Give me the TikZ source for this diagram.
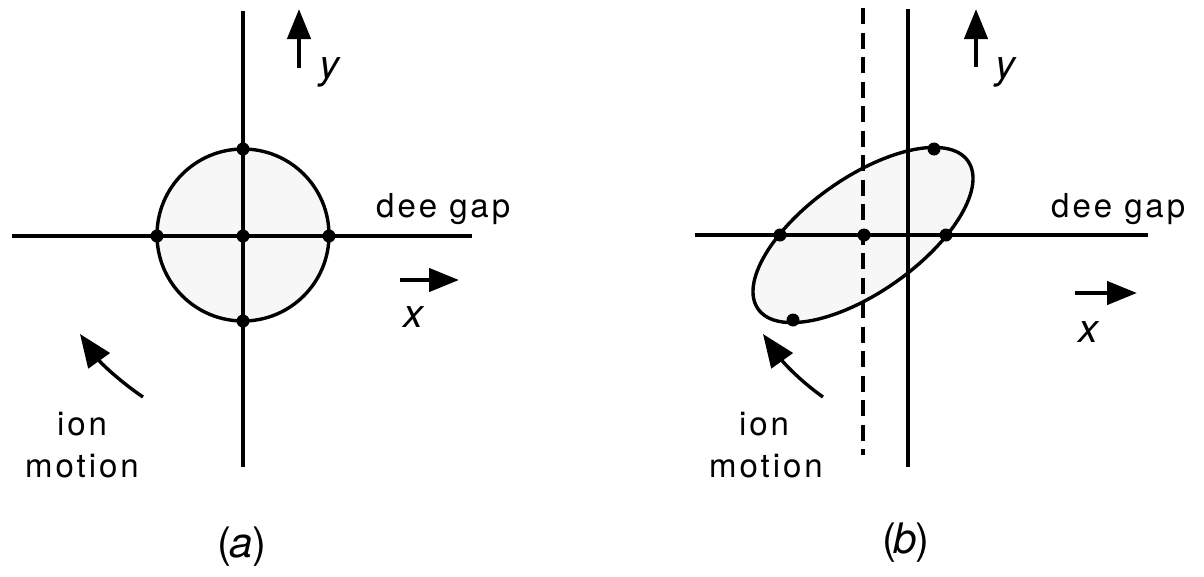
\documentclass[tikz,border=0pt]{standalone}
\usepackage{fontspec}
\setmainfont{TeX Gyre Heros}
\newfontfamily\lblfont[LetterSpace=9]{TeX Gyre Heros}
\usetikzlibrary{arrows.meta}
\tikzset{
  axis/.style={line width=3.4pt},
  dashaxis/.style={line width=3.8pt, dash pattern=on 16pt off 8.5pt},
  orbit/.style={line width=3.4pt, fill=black!3},
  dot/.style={circle, fill=black, inner sep=0pt, minimum size=13pt},
  lbl/.style={font=\fontsize{33}{37}\selectfont\lblfont, inner sep=0pt},
  var/.style={font=\fontsize{40}{44}\selectfont\itshape, inner sep=0pt},
  panellabel/.style={font=\fontsize{42}{46}\selectfont, inner sep=0pt},
  dirarrow/.style={line width=4.5pt, -{Triangle[length=30pt,width=23pt]}},
  ionarrow/.style={line width=3.4pt, -{Triangle[length=33pt,width=26pt]}}
}
\begin{document}
\begin{tikzpicture}[x=1pt,y=-1pt]
\useasboundingbox (0,0) rectangle (1204,576);
\fill[white] (0,0) rectangle (1204,576);

% ---------- panel (a) ----------
\coordinate (aT) at (243,11);
\coordinate (aB) at (243,467);
\coordinate (aL) at (12,236);
\coordinate (aR) at (472,236);
\draw[orbit] (243,235) circle[radius=86];
\draw[axis] (aT) -- (aB);
\draw[axis] (aL) -- (aR);
\node[dot] (ac) at (243,236) {};
\node[dot] (al) at (157,236) {};
\node[dot] (ar) at (329,236) {};
\node[dot] (at) at (243,149) {};
\node[dot] (ab) at (243,321) {};

\coordinate (ayS) at (299,68);
\coordinate (ayE) at (299,9);
\draw[dirarrow] (ayS) -- (ayE);
\node[var, anchor=base] (aylab) at (329,78) {y};
\coordinate (axS) at (400,280);
\coordinate (axE) at (459,280);
\draw[dirarrow] (axS) -- (axE);
\node[var, anchor=base] (axlab) at (413,327) {x};
\node[lbl, anchor=base west] (agap) at (376,217) {dee gap};

\coordinate (aiS) at (143,397);
\coordinate (aiE) at (80,334);
\draw[ionarrow] (aiS) .. controls (118,380) and (100,362) .. (aiE);
\node[lbl, anchor=base] (aion) at (82,435) {ion};
\node[lbl, anchor=base] (amot) at (82,477) {motion};
\node[panellabel] (acap) at (242,547) {(\kern-2pt\textit{a}\kern-1pt)};

% ---------- panel (b) ----------
\coordinate (bT) at (908,9);
\coordinate (bB) at (908,467);
\coordinate (dT) at (863,8);
\coordinate (dB) at (863,455);
\coordinate (bL) at (695,235);
\coordinate (bR) at (1148,235);
\draw[orbit, shift={(863,235)}, rotate=35.2] (0,0) ellipse [x radius=128.4, y radius=57.3];
\draw[axis] (bT) -- (bB);
\draw[dashaxis] (dT) -- (dB);
\draw[axis] (bL) -- (bR);
\node[dot] (bl) at (780,235) {};
\node[dot] (bc) at (864,235) {};
\node[dot] (br) at (946,235) {};
\node[dot] (bt) at (934,149) {};
\node[dot] (bb) at (793,320) {};

\coordinate (byS) at (976,67);
\coordinate (byE) at (976,9);
\draw[dirarrow] (byS) -- (byE);
\node[var, anchor=base] (bylab) at (1005,78) {y};
\coordinate (bxS) at (1075,293);
\coordinate (bxE) at (1137,293);
\draw[dirarrow] (bxS) -- (bxE);
\node[var, anchor=base] (bxlab) at (1088,342) {x};
\node[lbl, anchor=base west] (bgap) at (1051,217) {dee gap};

\coordinate (biS) at (823,397);
\coordinate (biE) at (763,334);
\draw[ionarrow] (biS) .. controls (799,380) and (783,362) .. (biE);
\node[lbl, anchor=base] (bion) at (764,435) {ion};
\node[lbl, anchor=base] (bmot) at (766,477) {motion};
\node[panellabel] (bcap) at (906,543) {(\kern-3pt\textit{b}\kern-1pt)};
\end{tikzpicture}
\end{document}
